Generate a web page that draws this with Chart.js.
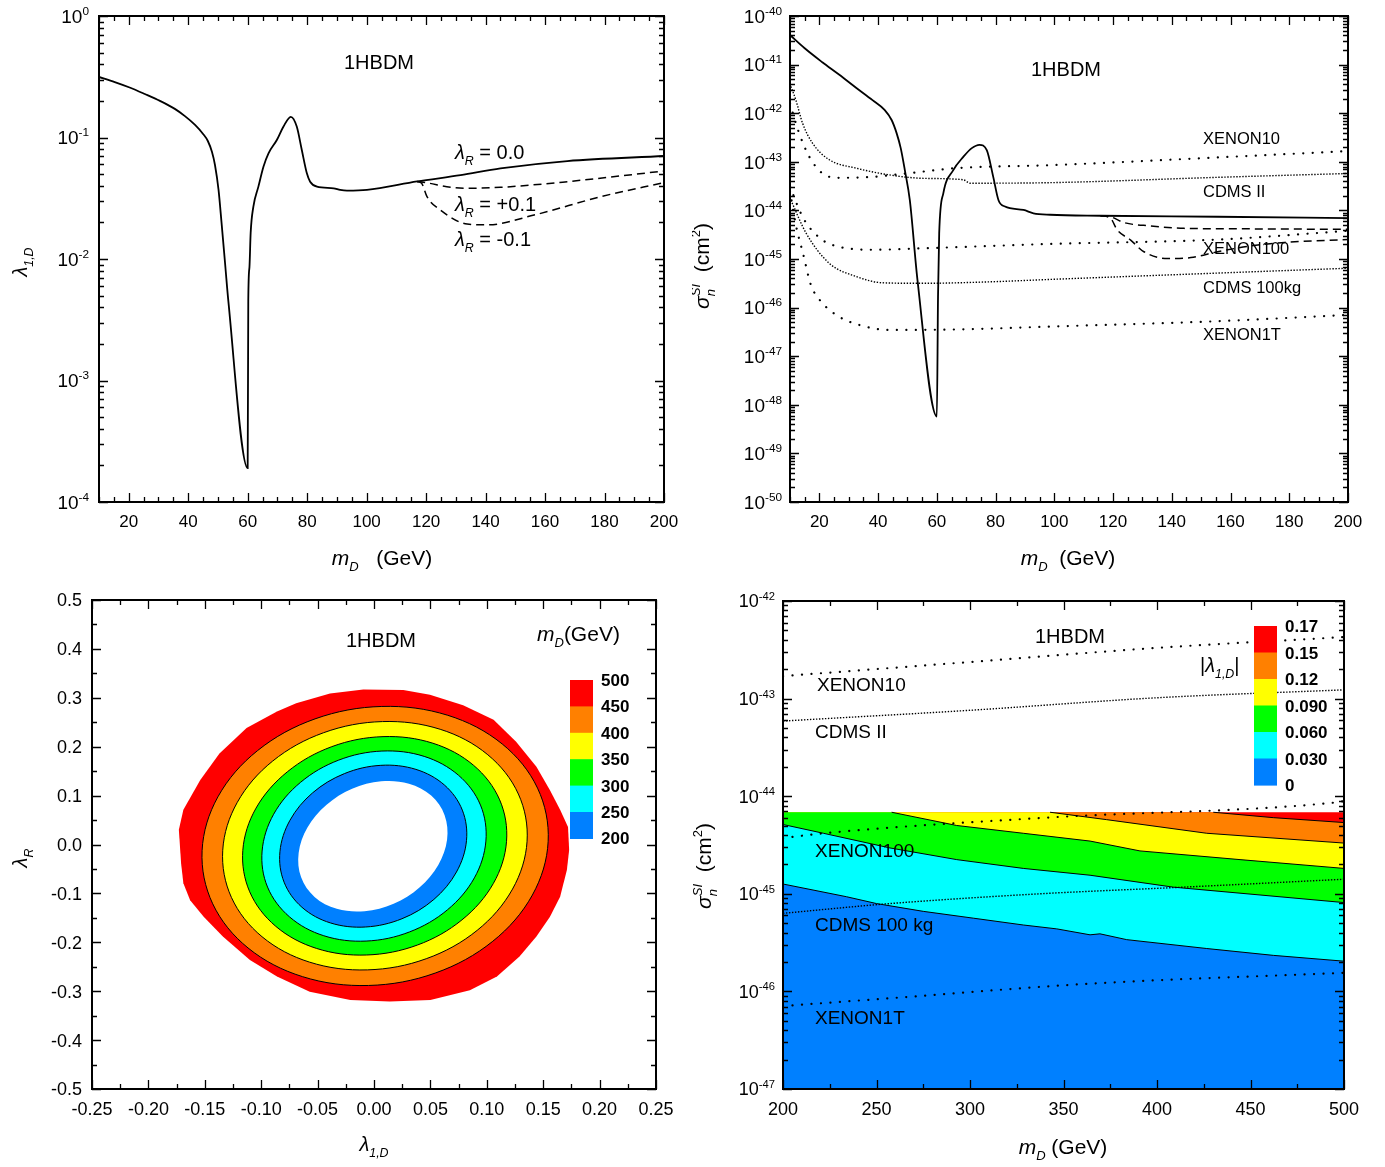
<!DOCTYPE html>
<html>
<head>
<meta charset="utf-8">
<title>1HBDM</title>
<script src="https://cdn.jsdelivr.net/npm/chart.js@4.4.1/dist/chart.umd.min.js"></script>
<style>
  html, body { margin: 0; padding: 0; background: #fff; }
  #page { position: relative; width: 1385px; height: 1167px; overflow: hidden; }
  canvas { position: absolute; }
</style>
</head>
<body>
<div id="page">
  <canvas id="tl" width="692" height="580" style="left:0;top:0"></canvas>
  <canvas id="tr" width="693" height="580" style="left:692px;top:0"></canvas>
  <canvas id="bl" width="692" height="587" style="left:0;top:580px"></canvas>
  <canvas id="br" width="693" height="587" style="left:692px;top:580px"></canvas>
</div>
<script>
// ---------- top left: lambda_1,D against m_D ----------
const tlMass   = [10,15.3,20.3,25.4,30.5,35.5,38.9,42.3,45,46.6,48,49,50.2,51.2,52.5,53.5,60,60.2,60.6,61,61.9,63.6,65.3,67,69.8,72,74.5,76.5,78.2,79.9,81,83.3,88.9,91.1,93.4,100.1,117,131.6,145,167.5,200];
const tlLamR0  = [0.315,0.286,0.258,0.228,0.2,0.172,0.15,0.127,0.107,0.0936,0.076,0.0594,0.037,0.02,0.0086,0.0045,0.00019,0.0046,0.0086,0.0164,0.0269,0.0394,0.0575,0.0741,0.0953,0.1227,0.148,0.123,0.0789,0.0507,0.0433,0.0394,0.0382,0.037,0.0365,0.037,0.0435,0.049,0.0557,0.064,0.0704];
const tlMassPlus  = [117,120,128.2,133.8,145,167.5,200];
const tlLamRPlus  = [0.0435,0.0425,0.0389,0.0382,0.0389,0.0433,0.053];
const tlMassMinus = [117,118.5,120.3,124.8,133.8,140.6,156.3,178.8,200];
const tlLamRMinus = [0.0435,0.042,0.0326,0.0253,0.0194,0.0191,0.023,0.0326,0.0425];
const tlXTicks = [20,40,60,80,100,120,140,160,180,200];
const tlYExp   = [0,-1,-2,-3,-4];

// ---------- top right: sigma_n^SI against m_D ----------
const trMass  = [10,14.9,21,26.8,32.6,38.1,42.2,44.6,46.3,47.7,49.1,50.8,53.4,60,60.4,60.8,62.2,65.6,69,71.9,74.5,77,79.2,81,83.2,89.5,92.9,98.6,115.7,155.6,200];
const trSigma = [4.07e-41,2.19e-41,1.12e-41,6.17e-42,3.31e-42,1.86e-42,1.17e-42,7.24e-43,3.89e-43,1.91e-43,6.76e-44,1.62e-44,3.72e-46,5.75e-49,1.66e-46,3.39e-45,2.24e-44,6.76e-44,1.26e-43,1.91e-43,2.24e-43,1.74e-43,4.90e-44,1.62e-44,1.20e-44,1.02e-44,8.71e-45,8.13e-45,7.76e-45,7.41e-45,6.92e-45];
const trMassPlus   = [115.7,119.1,123.7,132.8,144.2,167,200];
const trSigmaPlus  = [7.76e-45,7.41e-45,5.62e-45,4.79e-45,4.27e-45,4.17e-45,4.07e-45];
const trMassMinus  = [115.7,119.1,121.4,126,130.5,138.5,146.5,155.6,167,178.4,200];
const trSigmaMinus = [7.76e-45,6.92e-45,3.98e-45,2.45e-45,1.41e-45,1.02e-45,1.07e-45,1.41e-45,1.86e-45,2.19e-45,2.51e-45];
const trXenon10M  = [10,13.1,16.6,21.1,26.8,38.2,49.6,66.7,98.6,155.6,200];
const trXenon10   = [1.58e-42,3.89e-43,1.26e-43,5.75e-44,4.68e-44,4.90e-44,5.75e-44,7.41e-44,8.51e-44,1.23e-43,1.66e-43];
const trCdms2M    = [10.3,12,14.3,17.7,23.4,32.5,43.9,55.3,69,71.3,98.6,155.6,200];
const trCdms2     = [3.55e-42,1.86e-42,6.17e-43,2.40e-43,1.10e-43,7.41e-44,5.37e-44,4.57e-44,4.27e-44,3.63e-44,3.72e-44,4.79e-44,5.75e-44];
const trXenon100M = [10,12,14.9,21.1,26.8,38.2,55.3,98.6,155.6,200];
const trXenon100  = [3.16e-44,1.51e-44,6.31e-45,2.45e-45,1.78e-45,1.55e-45,1.66e-45,2.04e-45,2.51e-45,3.80e-45];
const trCdms100M  = [10.3,15.5,23.4,32.5,41.6,55.3,78.1,98.6,155.6,200];
const trCdms100   = [1.62e-44,3.39e-45,8.13e-46,4.37e-46,3.24e-46,3.16e-46,3.39e-46,3.80e-46,5.13e-46,6.46e-46];
const trXenon1TM  = [10,12,14.5,17.1,21.1,26.8,33.7,43.9,66.7,98.6,155.6,200];
const trXenon1T   = [2.51e-44,5.01e-45,1.26e-45,2.95e-46,1.23e-46,6.46e-47,4.37e-47,3.47e-47,3.55e-47,4.07e-47,5.25e-47,7.08e-47];
const trXTicks = [20,40,60,80,100,120,140,160,180,200];
const trYExp   = [-40,-41,-42,-43,-44,-45,-46,-47,-48,-49,-50];

// ---------- bottom left: m_D contours in the (lambda_1,D , lambda_R) plane ----------
const blOuterX = [-0.039,-0.0095,0.026,0.0496,0.079,0.106,0.126,0.144,0.156,0.165,0.172,0.173,0.171,0.165,0.156,0.144,0.129,0.109,0.085,0.050,0.014,-0.021,-0.057,-0.086,-0.110,-0.134,-0.151,-0.163,-0.169,-0.171,-0.173,-0.169,-0.154,-0.137,-0.113,-0.086,-0.069];
const blOuterY = [0.309,0.317,0.316,0.306,0.285,0.255,0.210,0.159,0.111,0.071,0.036,-0.011,-0.052,-0.107,-0.148,-0.188,-0.229,-0.270,-0.298,-0.318,-0.321,-0.318,-0.301,-0.270,-0.236,-0.188,-0.148,-0.114,-0.079,-0.039,0.030,0.071,0.132,0.186,0.238,0.272,0.289];
const blC450X = [0.1544,0.1450,0.1137,0.0653,0.0069,-0.0523,-0.1033,-0.1384,-0.1524,-0.1430,-0.1117,-0.0633,-0.0049,0.0543,0.1053,0.1404];
const blC450Y = [0.0066,0.1152,0.2055,0.2643,0.2823,0.2569,0.1919,0.0974,-0.0126,-0.1212,-0.2115,-0.2703,-0.2883,-0.2629,-0.1979,-0.1034];
const blC400X = [0.1357,0.1280,0.1009,0.0587,0.0075,-0.0447,-0.0899,-0.1212,-0.1341,-0.1264,-0.0993,-0.0571,-0.0059,0.0463,0.0915,0.1228];
const blC400Y = [0.0067,0.1032,0.1835,0.2356,0.2514,0.2286,0.1705,0.0862,-0.0117,-0.1082,-0.1885,-0.2406,-0.2564,-0.2336,-0.1755,-0.0912];
const blC350X = [0.1175,0.1114,0.0884,0.0522,0.0080,-0.0374,-0.0768,-0.1046,-0.1163,-0.1102,-0.0872,-0.0510,-0.0068,0.0386,0.0780,0.1058];
const blC350Y = [0.0065,0.0913,0.1617,0.2071,0.2206,0.2001,0.1487,0.0743,-0.0119,-0.0967,-0.1671,-0.2125,-0.2260,-0.2055,-0.1541,-0.0797];
const blC300X = [0.0992,0.0944,0.0750,0.0445,0.0070,-0.0315,-0.0652,-0.0890,-0.0992,-0.0944,-0.0750,-0.0445,-0.0070,0.0315,0.0652,0.0890];
const blC300Y = [0.0070,0.0806,0.1414,0.1802,0.1911,0.1724,0.1270,0.0618,-0.0134,-0.0870,-0.1478,-0.1866,-0.1975,-0.1788,-0.1334,-0.0682];
const blC250X = [0.0820,0.0783,0.0625,0.0372,0.0060,-0.0262,-0.0545,-0.0745,-0.0834,-0.0797,-0.0639,-0.0386,-0.0074,0.0248,0.0531,0.0731];
const blC250Y = [0.0079,0.0703,0.1215,0.1536,0.1619,0.1450,0.1055,0.0495,-0.0147,-0.0771,-0.1283,-0.1604,-0.1687,-0.1518,-0.1123,-0.0563];
const blC200X = [0.0648,0.0626,0.0507,0.0310,0.0064,-0.0194,-0.0423,-0.0590,-0.0668,-0.0646,-0.0527,-0.0330,-0.0084,0.0174,0.0403,0.0570];
const blC200Y = [0.0101,0.0600,0.1001,0.1244,0.1293,0.1140,0.0807,0.0346,-0.0173,-0.0672,-0.1073,-0.1316,-0.1365,-0.1212,-0.0879,-0.0418];
const blBarLabels = ['500','450','400','350','300','250','200'];
const blXTicks = [-0.25,-0.2,-0.15,-0.1,-0.05,0,0.05,0.1,0.15,0.2,0.25];
const blYTicks = [-0.5,-0.4,-0.3,-0.2,-0.1,0,0.1,0.2,0.3,0.4,0.5];

// ---------- bottom right: sigma_n^SI against m_D, coloured by |lambda_1,D| ----------
const brMassL1 = [200,234,250,275,302,328.5,346.4,364.2,369.5,383.8,426.6,462.2,500];
const brL1     = [1.26e-45,9.33e-46,7.94e-46,6.61e-46,5.62e-46,4.79e-46,4.37e-46,3.80e-46,3.89e-46,3.39e-46,2.75e-46,2.34e-46,2.04e-46];
const brMassL2 = [200,221.6,257.2,292.9,328.5,364.2,408.7,500];
const brL2     = [5.13e-45,4.17e-45,2.95e-45,2.24e-45,1.82e-45,1.55e-45,1.17e-45,8.13e-46];
const brMassL3 = [200,258.1,292.9,328.5,364.2,390.9,444.4,500];
const brL3     = [6.85e-45,6.85e-45,5.01e-45,4.17e-45,3.47e-45,2.75e-45,2.24e-45,1.82e-45];
const brMassL4 = [200,342.8,373.1,426.6,500];
const brL4     = [6.85e-45,6.85e-45,5.75e-45,4.17e-45,3.31e-45];
const brMassL5 = [200,430.1,462.2,500];
const brL5     = [6.85e-45,6.85e-45,6.03e-45,5.37e-45];
const brMassTop = [200,500];
const brTop     = [6.85e-45,6.85e-45];
const brXenon10M  = [200,300,400,500];
const brXenon10   = [1.70e-43,2.37e-43,3.31e-43,4.27e-43];
const brCdms2M    = [200,300,400,500];
const brCdms2     = [5.89e-44,7.59e-44,1.02e-43,1.23e-43];
const brXenon100M = [200,221.6,341,492.6,500];
const brXenon100  = [3.72e-45,4.17e-45,6.03e-45,8.51e-45,8.91e-45];
const brCdms100M  = [200,257.2,337.4,414.1,500];
const brCdms100   = [6.31e-46,7.94e-46,1.0e-45,1.17e-45,1.41e-45];
const brXenon1TM  = [200,257.2,364.2,500];
const brXenon1T   = [7.08e-47,8.51e-47,1.20e-46,1.55e-46];
const brBarLabels = ['0.17','0.15','0.12','0.090','0.060','0.030','0'];
const brXTicks = [200,250,300,350,400,450,500];
const brYExp   = [-42,-43,-44,-45,-46,-47];

const FONT = "'Liberation Sans', Arial, Helvetica, sans-serif";
const BAND = ['#ff0000', '#ff8000', '#ffff00', '#00ff00', '#00ffff', '#0080ff'];

function pts(xs, ys) { return xs.map(function (x, i) { return {x: x, y: ys[i]}; }); }
function steps(a, b, s) { var r = []; for (var v = a; v <= b + 1e-9; v += s) r.push(+v.toFixed(4)); return r; }
function logTicks(lo, hi) {
  var major = [], minor = [];
  for (var e = lo; e <= hi; e++) {
    major.push(Math.pow(10, e));
    if (e < hi) for (var k = 2; k <= 9; k++) minor.push(k * Math.pow(10, e));
  }
  return {major: major, minor: minor};
}
function sup10(e) { return [{t: '10'}, {t: String(e), s: -1}]; }

// text with italics, sub- and superscripts
function layoutRich(ctx, parts, size) {
  var x = 0, prevStart = 0, prevW = 0, out = [];
  parts.forEach(function (p) {
    var fs = p.s ? size * 0.62 : size;
    var font = (p.i ? 'italic ' : '') + (p.b ? 'bold ' : '') + fs.toFixed(1) + 'px ' + FONT;
    ctx.font = font;
    var w = ctx.measureText(p.t).width;
    var sx = x;
    if (p.back) { sx = prevStart; x = Math.max(prevStart + prevW, sx + w); }
    else x = sx + w;
    out.push({t: p.t, font: font, x: sx, dy: p.s === 1 ? size * 0.3 : (p.s === -1 ? -size * 0.42 : 0)});
    prevStart = sx; prevW = w;
  });
  return {items: out, width: x};
}
function drawRich(ctx, parts, x, y, size, align, rot) {
  var L = layoutRich(ctx, parts, size);
  ctx.save();
  ctx.translate(x, y);
  if (rot) ctx.rotate(rot);
  var off = align === 'center' ? -L.width / 2 : (align === 'right' ? -L.width : 0);
  ctx.fillStyle = '#000';
  ctx.textAlign = 'left';
  ctx.textBaseline = 'alphabetic';
  L.items.forEach(function (it) { ctx.font = it.font; ctx.fillText(it.t, off + it.x, it.dy); });
  ctx.restore();
}

// per panel decoration: inward ticks, frame, tick labels, titles, notes, colour bar
const DECO = {};
const frame = {
  id: 'frame',
  afterDraw: function (chart) {
    var d = DECO[chart.canvas.id];
    if (!d) return;
    var ctx = chart.ctx, a = chart.chartArea, sx = chart.scales.x, sy = chart.scales.y;
    ctx.save();
    ctx.strokeStyle = '#000';
    ctx.lineWidth = 1.3;
    ctx.beginPath();
    function tx(v, L) {
      var p = Math.round(sx.getPixelForValue(v)) + 0.5;
      ctx.moveTo(p, a.bottom); ctx.lineTo(p, a.bottom - L);
      ctx.moveTo(p, a.top); ctx.lineTo(p, a.top + L);
    }
    function ty(v, L) {
      var p = Math.round(sy.getPixelForValue(v)) + 0.5;
      ctx.moveTo(a.left, p); ctx.lineTo(a.left + L, p);
      ctx.moveTo(a.right, p); ctx.lineTo(a.right - L, p);
    }
    d.xMinor.forEach(function (v) { tx(v, 5); });
    d.xMajor.forEach(function (v) { tx(v, 9); });
    d.yMinor.forEach(function (v) { ty(v, 5); });
    d.yMajor.forEach(function (v) { ty(v, 9); });
    ctx.stroke();
    ctx.lineWidth = 2;
    ctx.strokeRect(a.left, a.top, a.right - a.left, a.bottom - a.top);

    d.xLabels.forEach(function (l) {
      drawRich(ctx, [{t: l[1]}], sx.getPixelForValue(l[0]), a.bottom + d.xDy, d.xSize, 'center');
    });
    d.yLabels.forEach(function (l) {
      drawRich(ctx, l[1], a.left - d.yDx, sy.getPixelForValue(l[0]) + d.ySize * 0.36, d.ySize, 'right');
    });
    d.texts.forEach(function (t) {
      drawRich(ctx, t.p, t.x, t.y, t.size, t.align || 'left', t.rot || 0);
    });
    if (d.bar) {
      var b = d.bar;
      BAND.forEach(function (c, i) { ctx.fillStyle = c; ctx.fillRect(b.x, b.y + i * b.h, b.w, b.h + 0.6); });
      b.labels.forEach(function (s, i) {
        drawRich(ctx, [{t: s, b: 1}], b.x + b.w + 8, b.y + i * b.h + 6, 17, 'left');
      });
    }
    ctx.restore();
  }
};

// lets a line dataset be drawn as a smooth closed loop
const closeLoop = {
  id: 'closeLoop',
  afterDatasetUpdate: function (chart, args) {
    var ds = chart.data.datasets[args.index];
    if (ds.closed && args.meta.dataset) {
      args.meta.dataset._loop = true;
      args.meta.dataset._fullLoop = true;
    }
  }
};

function options(pad, xScale, yScale) {
  return {
    responsive: false,
    animation: false,
    devicePixelRatio: 1,
    layout: {padding: pad},
    plugins: {legend: {display: false}, tooltip: {enabled: false}},
    elements: {point: {radius: 0}},
    scales: {
      x: Object.assign({display: false}, xScale),
      y: Object.assign({display: false}, yScale)
    }
  };
}
function curve(xs, ys, extra) {
  return Object.assign({
    data: pts(xs, ys), borderColor: '#000', borderWidth: 1.7, pointRadius: 0,
    fill: false, cubicInterpolationMode: 'monotone'
  }, extra || {});
}
const sparse = {borderWidth: 2.2, borderDash: [0.1, 9.4], borderCapStyle: 'round'};
const dense  = {borderWidth: 1.4, borderDash: [1.4, 1.6]};
const dashed = {borderWidth: 1.5, borderDash: [8, 5]};

function lamR(rest) { return [{t: 'λ', i: 1}, {t: 'R', i: 1, s: 1}, {t: rest}]; }
const sigmaTitle = [{t: 'σ', i: 1}, {t: 'n', i: 1, s: 1}, {t: 'SI', i: 1, s: -1, back: 1}, {t: '  (cm'}, {t: '2', s: -1}, {t: ')'}];

// ---------- top left ----------
var tlLog = logTicks(-4, 0);
DECO.tl = {
  xMajor: tlXTicks, xMinor: steps(10, 200, 5), yMajor: tlLog.major, yMinor: tlLog.minor,
  xLabels: tlXTicks.map(function (v) { return [v, String(v)]; }), xSize: 17, xDy: 25,
  yLabels: tlYExp.map(function (e) { return [Math.pow(10, e), sup10(e)]; }), ySize: 19, yDx: 10,
  texts: [
    {p: [{t: '1HBDM'}], x: 379, y: 69, size: 20, align: 'center'},
    {p: lamR(' = 0.0'), x: 455, y: 159, size: 20},
    {p: lamR(' = +0.1'), x: 455, y: 211, size: 20},
    {p: lamR(' = -0.1'), x: 455, y: 246, size: 20},
    {p: [{t: 'λ', i: 1}, {t: '1,D', i: 1, s: 1}], x: 27, y: 262, size: 20, align: 'center', rot: -Math.PI / 2},
    {p: [{t: 'm', i: 1}, {t: 'D', i: 1, s: 1}, {t: '   (GeV)'}], x: 382, y: 565, size: 21, align: 'center'}
  ]
};
new Chart(document.getElementById('tl'), {
  type: 'line',
  data: {datasets: [
    curve(tlMass, tlLamR0, {borderWidth: 1.8}),
    curve(tlMassPlus, tlLamRPlus, dashed),
    curve(tlMassMinus, tlLamRMinus, dashed)
  ]},
  options: options({left: 99, top: 16, right: 28, bottom: 78},
    {type: 'linear', min: 10, max: 200}, {type: 'logarithmic', min: 1e-4, max: 1}),
  plugins: [frame]
});

// ---------- top right ----------
var trLog = logTicks(-50, -40);
DECO.tr = {
  xMajor: trXTicks, xMinor: steps(10, 200, 5), yMajor: trLog.major, yMinor: trLog.minor,
  xLabels: trXTicks.map(function (v) { return [v, String(v)]; }), xSize: 17, xDy: 25,
  yLabels: trYExp.map(function (e) { return [Math.pow(10, e), sup10(e)]; }), ySize: 19, yDx: 8,
  texts: [
    {p: [{t: '1HBDM'}], x: 374, y: 76, size: 20, align: 'center'},
    {p: [{t: 'XENON10'}], x: 511, y: 144, size: 16.5},
    {p: [{t: 'CDMS II'}], x: 511, y: 197, size: 16.5},
    {p: [{t: 'XENON100'}], x: 511, y: 254, size: 16.5},
    {p: [{t: 'CDMS 100kg'}], x: 511, y: 293, size: 16.5},
    {p: [{t: 'XENON1T'}], x: 511, y: 340, size: 16.5},
    {p: sigmaTitle, x: 17, y: 266, size: 21, align: 'center', rot: -Math.PI / 2},
    {p: [{t: 'm', i: 1}, {t: 'D', i: 1, s: 1}, {t: '  (GeV)'}], x: 376, y: 565, size: 21, align: 'center'}
  ]
};
new Chart(document.getElementById('tr'), {
  type: 'line',
  data: {datasets: [
    curve(trMass, trSigma, {borderWidth: 1.8}),
    curve(trMassPlus, trSigmaPlus, dashed),
    curve(trMassMinus, trSigmaMinus, dashed),
    curve(trXenon10M, trXenon10, sparse),
    curve(trCdms2M, trCdms2, dense),
    curve(trXenon100M, trXenon100, sparse),
    curve(trCdms100M, trCdms100, dense),
    curve(trXenon1TM, trXenon1T, sparse)
  ]},
  options: options({left: 98, top: 16, right: 37, bottom: 78},
    {type: 'linear', min: 10, max: 200}, {type: 'logarithmic', min: 1e-50, max: 1e-40}),
  plugins: [frame]
});

// ---------- bottom left ----------
function ring(xs, ys, color, outline, tension) {
  return {
    data: pts(xs, ys), backgroundColor: color, fill: 'shape', closed: true,
    borderColor: outline ? '#000' : 'rgba(0,0,0,0)', borderWidth: outline ? 1 : 0,
    tension: tension, pointRadius: 0
  };
}
DECO.bl = {
  xMajor: blXTicks, xMinor: steps(-0.25, 0.25, 0.025), yMajor: blYTicks, yMinor: steps(-0.5, 0.5, 0.05),
  xLabels: blXTicks.map(function (v) { return [v, v.toFixed(2)]; }), xSize: 18, xDy: 26,
  yLabels: blYTicks.map(function (v) { return [v, [{t: v.toFixed(1)}]]; }), ySize: 18, yDx: 10,
  texts: [
    {p: [{t: '1HBDM'}], x: 381, y: 67, size: 20, align: 'center'},
    {p: [{t: 'm', i: 1}, {t: 'D', i: 1, s: 1}, {t: '(GeV)'}], x: 537, y: 61, size: 21},
    {p: [{t: 'λ', i: 1}, {t: 'R', i: 1, s: 1}], x: 27, y: 278, size: 20, align: 'center', rot: -Math.PI / 2},
    {p: [{t: 'λ', i: 1}, {t: '1,D', i: 1, s: 1}], x: 374, y: 571, size: 20, align: 'center'}
  ],
  bar: {x: 570, y: 100, w: 23, h: 26.4, labels: blBarLabels}
};
new Chart(document.getElementById('bl'), {
  type: 'line',
  data: {datasets: [
    ring(blC200X, blC200Y, '#ffffff', false, 0.35),
    ring(blC250X, blC250Y, BAND[5], true, 0.35),
    ring(blC300X, blC300Y, BAND[4], true, 0.35),
    ring(blC350X, blC350Y, BAND[3], true, 0.35),
    ring(blC400X, blC400Y, BAND[2], true, 0.35),
    ring(blC450X, blC450Y, BAND[1], true, 0.35),
    ring(blOuterX, blOuterY, BAND[0], false, 0)
  ]},
  options: options({left: 92, top: 20, right: 36, bottom: 78},
    {type: 'linear', min: -0.25, max: 0.25}, {type: 'linear', min: -0.5, max: 0.5}),
  plugins: [closeLoop, frame]
});

// ---------- bottom right ----------
function bandFill(xs, ys, color) {
  return {data: pts(xs, ys), backgroundColor: color, fill: 'start', borderWidth: 0, tension: 0, pointRadius: 0};
}
function bandEdge(xs, ys, from) {
  return {data: pts(xs.slice(from), ys.slice(from)), borderColor: '#000', borderWidth: 1, fill: false, tension: 0, pointRadius: 0};
}
var brLog = logTicks(-47, -42);
DECO.br = {
  xMajor: brXTicks, xMinor: steps(200, 500, 25), yMajor: brLog.major, yMinor: brLog.minor,
  xLabels: brXTicks.map(function (v) { return [v, String(v)]; }), xSize: 18, xDy: 26,
  yLabels: brYExp.map(function (e) { return [Math.pow(10, e), sup10(e)]; }), ySize: 18, yDx: 8,
  texts: [
    {p: [{t: '1HBDM'}], x: 378, y: 63, size: 20, align: 'center'},
    {p: [{t: 'XENON10'}], x: 125, y: 111, size: 19},
    {p: [{t: 'CDMS II'}], x: 123, y: 158, size: 19},
    {p: [{t: 'XENON100'}], x: 123, y: 277, size: 19},
    {p: [{t: 'CDMS 100 kg'}], x: 123, y: 351, size: 19},
    {p: [{t: 'XENON1T'}], x: 123, y: 444, size: 19},
    {p: [{t: '|'}, {t: 'λ', i: 1}, {t: '1,D', i: 1, s: 1}, {t: '|'}], x: 508, y: 92, size: 20},
    {p: sigmaTitle, x: 19, y: 286, size: 21, align: 'center', rot: -Math.PI / 2},
    {p: [{t: 'm', i: 1}, {t: 'D', i: 1, s: 1}, {t: ' (GeV)'}], x: 371, y: 574, size: 21, align: 'center'}
  ],
  bar: {x: 562, y: 46, w: 23, h: 26.5, labels: brBarLabels}
};
new Chart(document.getElementById('br'), {
  type: 'line',
  data: {datasets: [
    curve(brXenon10M, brXenon10, sparse),
    curve(brCdms2M, brCdms2, dense),
    curve(brXenon100M, brXenon100, sparse),
    curve(brCdms100M, brCdms100, dense),
    curve(brXenon1TM, brXenon1T, sparse),
    bandEdge(brMassL1, brL1, 0),
    bandEdge(brMassL2, brL2, 0),
    bandEdge(brMassL3, brL3, 1),
    bandEdge(brMassL4, brL4, 1),
    bandEdge(brMassL5, brL5, 1),
    bandFill(brMassL1, brL1, BAND[5]),
    bandFill(brMassL2, brL2, BAND[4]),
    bandFill(brMassL3, brL3, BAND[3]),
    bandFill(brMassL4, brL4, BAND[2]),
    bandFill(brMassL5, brL5, BAND[1]),
    bandFill(brMassTop, brTop, BAND[0])
  ]},
  options: options({left: 91, top: 21, right: 41, bottom: 78},
    {type: 'linear', min: 200, max: 500}, {type: 'logarithmic', min: 1e-47, max: 1e-42}),
  plugins: [frame]
});
</script>
</body>
</html>
